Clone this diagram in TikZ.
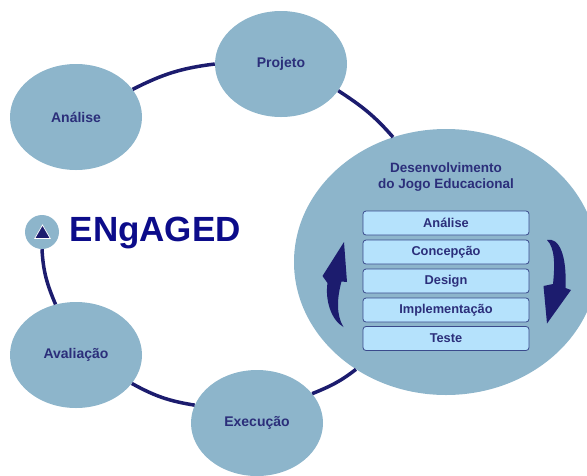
\documentclass[tikz,border=0pt]{standalone}
\usepackage{fontspec}
\setmainfont{Liberation Sans}
\usepackage{tikz}
\usetikzlibrary{arrows.meta,shapes.geometric}

\definecolor{ringblue}{HTML}{1C1C6E}
\definecolor{bubble}{HTML}{8DB5CB}
\definecolor{stepfill}{HTML}{B5E2FC}
\definecolor{stepline}{HTML}{3A4A8C}
\definecolor{labelblue}{HTML}{2B2E7A}
\definecolor{logoblue}{HTML}{0C0C8A}

\begin{document}
\begin{tikzpicture}[x=1pt,y=-1pt,
    phase/.style={ellipse,fill=bubble,minimum width=132pt,minimum height=106pt,inner sep=0pt,text=labelblue,font=\fontsize{14}{16}\selectfont\bfseries},
    stage/.style={draw=stepline,line width=0.8pt,fill=stepfill,rounded corners=3pt,minimum width=166pt,minimum height=24pt,inner sep=0pt,text=labelblue,font=\fontsize{12.8}{14}\selectfont\bfseries},
    ring/.style={draw=ringblue,line width=3.5pt}]
    \useasboundingbox (0,0) rectangle (587,475);
    \node[phase] (analise) at (76,117) {Análise};
    \node[phase] (projeto) at (281,64) {Projeto};
    \node[phase,minimum width=304pt,minimum height=266pt] (desenv) at (446,262) {};
    \node[phase] (execucao) at (257,423) {Execução};
    \node[phase] (avaliacao) at (76,355) {Avaliação};
    \node[circle,fill=bubble,minimum size=34pt,inner sep=0pt] (logo) at (42,232) {};
    \node[regular polygon,regular polygon sides=3,fill=ringblue,draw=white,line width=0.7pt,minimum size=18pt,inner sep=0pt] (logomark) at (42.5,234) {};
    \node[anchor=base west,inner sep=0pt,text=logoblue,font=\fontsize{35}{40}\selectfont\bfseries] (engaged) at (69.5,241.5) {ENgAGED};
    % ciclo
    \draw[ring] (analise.26) to[out=27,in=187] (projeto.180);
    \draw[ring] (projeto.-25) to[out=-33,in=131] (desenv.113);
    \draw[ring] (desenv.230) to[out=218,in=22] (execucao.28);
    \draw[ring] (execucao.164) to[out=171,in=-29] (avaliacao.-27);
    \draw[ring] (avaliacao.112) to[out=113,in=-87] (logo.south);
    % desenvolvimento
    \node[align=center,text=labelblue,font=\fontsize{13.5}{16}\selectfont\bfseries] (devtitle) at (446,177) {Desenvolvimento\\do Jogo Educacional};
    \node[stage] (analiseb) at (446,223) {Análise};
    \node[stage] (concepcao) at (446,252) {Concepção};
    \node[stage] (design) at (446,281) {Design};
    \node[stage] (implementacao) at (446,310) {Implementação};
    \node[stage] (teste) at (446,338.5) {Teste};
    \fill[ringblue] (344,242) -- (347,282) -- (341.5,281.5) .. controls (337,298) and (336,315) .. (343.5,327)
        .. controls (331,320) and (325,300) .. (327.5,283) -- (322.5,276) -- cycle;
    \fill[ringblue] (547,240) .. controls (559,237) and (567,255) .. (565.5,288) -- (571,290) -- (547,323.5)
        -- (543.5,286) -- (553,284) .. controls (555,265) and (555,248) .. (547,240) -- cycle;
\end{tikzpicture}
\end{document}
